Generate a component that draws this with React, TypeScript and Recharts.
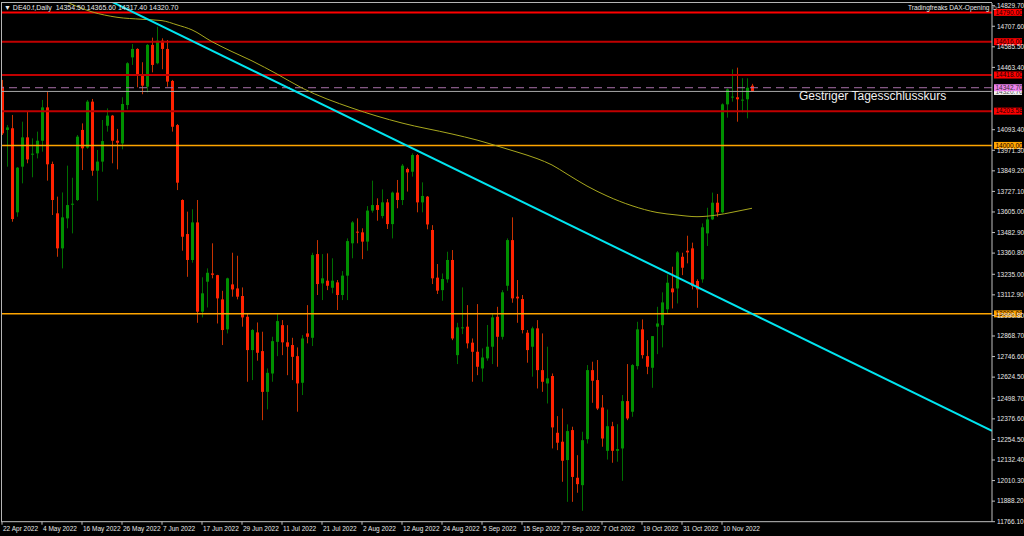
import { ComposedChart, Bar, Line, XAxis, YAxis, ReferenceLine } from "recharts";

// DE40 daily candles, bar 0 = 22 Apr 2022
const opens = [
  14349, 14092, 14102, 13603, 13874, 14048, 13947, 13953, 14028, 14226,
  13890, 13597, 13389, 13567, 13648, 13676, 14092, 13987, 14260, 13850,
  13904, 14117, 14177, 14028, 14012, 14240, 14523, 14573, 14418, 14349,
  14597, 14488, 14622, 14573, 14383, 14121, 13676, 13474, 13320, 13543,
  13013, 13191, 13240, 13230, 13086, 12908, 13175, 13151, 13106, 12983,
  12785, 12890, 12779, 12537, 12646, 12834, 12933, 12831, 12815, 12749,
  12591, 12884, 12858, 13355, 13181, 13197, 13155, 13187, 13112, 13227,
  13419, 13488, 13484, 13429, 13613, 13646, 13581, 13662, 13533, 13720,
  13676, 13860, 13844, 13943, 13662, 13696, 13498, 13215, 13141, 13205,
  13320, 12755, 12914, 12924, 12829, 12775, 12676, 12736, 12805, 12983,
  12864, 13167, 13438, 13102, 13088, 12888, 12805, 12914, 12666, 12587,
  12631, 12294, 12241, 12132, 12310, 12027, 11983, 12256, 12666, 12607,
  12444, 12187, 12333, 12187, 12201, 12482, 12419, 12690, 12908, 12749,
  12680, 12924, 12933, 13027, 13151, 13151, 13339, 13375, 13389, 13195,
  13205, 13478, 13561, 13660, 13603, 14244, 14286, 14286, 14268, 14274,
  14354.5,
];
const highs = [
  14389, 14121, 14181, 13872, 14141, 14200, 14042, 14082, 14270, 14319,
  13904, 13696, 13721, 13880, 13808, 14062, 14131, 14270, 14276, 13973,
  14151, 14220, 14181, 14098, 14286, 14494, 14602, 14577, 14494, 14602,
  14640, 14705, 14636, 14626, 14389, 14127, 13680, 13607, 13621, 13676,
  13217, 13270, 13419, 13232, 13137, 13215, 13363, 13345, 13157, 12999,
  12910, 12949, 12894, 12676, 12864, 13003, 12963, 12933, 12858, 12801,
  12874, 13052, 13363, 13438, 13355, 13359, 13330, 13201, 13254, 13448,
  13551, 13567, 13508, 13640, 13791, 13686, 13739, 13682, 13726, 13795,
  13890, 13868, 13953, 13949, 13781, 13700, 13527, 13296, 13240, 13369,
  13379, 12947, 13157, 13052, 12854, 13058, 12795, 12934, 12999, 13042,
  13141, 13448, 13573, 13201, 13112, 12904, 12924, 12963, 12884, 12805,
  12646, 12393, 12438, 12344, 12330, 12161, 12300, 12696, 12716, 12726,
  12518, 12432, 12359, 12345, 12518, 12702, 12702, 12953, 12967, 12844,
  12868, 13042, 13128, 13234, 13280, 13373, 13363, 13464, 13423, 13205,
  13537, 13630, 13720, 13712, 14250, 14339, 14452, 14462, 14399, 14399,
  14365.6,
];
const lows = [
  14062, 13874, 13547, 13577, 13775, 13894, 13811, 13923, 13963, 13791,
  13587, 13339, 13270, 13508, 13478, 13670, 13854, 13980, 13820, 13672,
  13844, 14082, 13894, 13858, 13977, 14214, 14478, 14345, 14304, 14315,
  14434, 14482, 14452, 14349, 14082, 13735, 13375, 13220, 13304, 12947,
  12979, 13038, 13211, 12943, 12815, 12884, 13102, 13086, 12924, 12597,
  12607, 12722, 12369, 12433, 12597, 12749, 12755, 12636, 12607, 12419,
  12518, 12825, 12809, 13112, 13082, 13141, 13122, 13023, 13082, 13082,
  13330, 13419, 13325, 13375, 13601, 13553, 13567, 13504, 13448, 13627,
  13646, 13726, 13815, 13603, 13603, 13502, 13177, 13118, 13078, 13185,
  12844, 12702, 12880, 12795, 12597, 12636, 12597, 12722, 12702, 12686,
  12848, 13137, 13066, 12947, 12884, 12710, 12627, 12557, 12537, 12468,
  12201, 12191, 12003, 11884, 11884, 11938, 11831, 12230, 12472, 12429,
  12211, 12135, 12116, 12122, 12009, 12369, 12389, 12670, 12735, 12642,
  12561, 12761, 12801, 13003, 13032, 13062, 13230, 13300, 13145, 13036,
  13185, 13403, 13557, 13577, 13597, 14165, 14260, 14141, 14197, 14161,
  14317.4,
];
const closes = [
  14072, 14107, 13563, 13868, 14048, 13917, 13951, 14028, 14226, 13888,
  13676, 13389, 13573, 13646, 13654, 14052, 13983, 14260, 13850, 13904,
  14026, 14177, 14028, 14016, 14246, 14488, 14573, 14414, 14355, 14597,
  14478, 14622, 14573, 14379, 14111, 13779, 13458, 13320, 13543, 13013,
  13122, 13244, 13232, 13092, 12904, 13211, 13145, 13102, 12979, 12785,
  12904, 12769, 12537, 12650, 12838, 12957, 12831, 12805, 12745, 12587,
  12854, 12864, 13349, 13177, 13211, 13167, 13197, 13112, 13227, 13432,
  13543, 13482, 13429, 13613, 13646, 13617, 13662, 13533, 13720, 13676,
  13880, 13840, 13943, 13662, 13700, 13531, 13211, 13138, 13207, 13320,
  12854, 12920, 12920, 12825, 12775, 12686, 12741, 12805, 12979, 12864,
  13128, 13438, 13092, 13092, 12904, 12785, 12914, 12666, 12597, 12617,
  12326, 12235, 12128, 12304, 12032, 11989, 12250, 12666, 12603, 12438,
  12260, 12333, 12187, 12197, 12482, 12379, 12696, 12908, 12755, 12686,
  12868, 12943, 13068, 13185, 13128, 13365, 13274, 13365, 13165, 13145,
  13514, 13561, 13660, 13603, 14244, 14333, 14290, 14274, 14272, 14342.7,
  14320.7,
];

const tickBars = [0, 8, 16, 24, 32, 40, 48, 56, 64, 72, 80, 88, 96, 104, 112, 120, 128, 136, 144];
const tickDates = [
  "22 Apr 2022", "4 May 2022", "16 May 2022", "26 May 2022", "7 Jun 2022",
  "17 Jun 2022", "29 Jun 2022", "11 Jul 2022", "21 Jul 2022", "2 Aug 2022",
  "12 Aug 2022", "24 Aug 2022", "5 Sep 2022", "15 Sep 2022", "27 Sep 2022",
  "7 Oct 2022", "19 Oct 2022", "31 Oct 2022", "10 Nov 2022",
];

const priceTicks = [
  14829.7, 14707.6, 14585.5, 14463.4, 14093.4, 13971.3, 13849.2, 13727.1,
  13605.0, 13482.9, 13360.8, 13235.0, 13112.9, 12990.8, 12868.7, 12746.6,
  12624.5, 12498.7, 12376.6, 12254.5, 12132.4, 12010.3, 11888.2, 11766.1,
];

// moving average, read at a few bars
const maBars = [12, 18, 23, 28, 32, 35, 38, 42, 46, 50, 55, 60, 70, 80, 90, 95, 99, 103, 107, 110, 113, 117, 121, 126, 131, 135, 139, 143, 146, 150];
const maValues = [
  14864, 14793, 14761, 14749, 14741, 14716, 14686, 14616, 14557, 14502,
  14424, 14341, 14222, 14133, 14068, 14032, 13997, 13961, 13922, 13884,
  13830, 13759, 13700, 13642, 13602, 13587, 13577, 13587, 13603, 13627,
];

const trendBars = [21, 198];
const trendValues = [14867, 12306];

const redLevels = [14790, 14616, 14418, 14203.58];
const orangeLevels = [14000, 13000];
const prevClose = 14342.7;
const lastPrice = 14320.7;

const FONT = "'Liberation Sans', Arial, sans-serif";

const candles = opens.map((o, i) => ({
  i,
  o,
  h: highs[i],
  l: lows[i],
  c: closes[i],
  range: [lows[i], highs[i]],
}));
const maRows = maBars.map((b, k) => ({ i: b, ma: maValues[k] }));
const trendRows = trendBars.map((b, k) => ({ i: b, trend: trendValues[k] }));

function Candle(props: any) {
  const { x, y, width, height, payload } = props;
  if (!payload || height == null || isNaN(y)) return null;
  const { o, h, l, c } = payload;
  const top = Math.min(y, y + height);
  const span = Math.abs(height);
  const k = h > l ? span / (h - l) : 0;
  const cx = Math.round(x + width / 2 - 0.5);
  const bodyTop = top + (h - Math.max(o, c)) * k;
  const bodyH = Math.max(1, Math.abs(o - c) * k);
  const up = c >= o;
  return (
    <g>
      <line
        x1={cx + 0.5}
        x2={cx + 0.5}
        y1={top}
        y2={top + span}
        stroke={up ? "#006e00" : "#c83200"}
        strokeWidth={1}
      />
      <rect x={cx - 1} y={bodyTop} width={3} height={bodyH} fill={up ? "#009000" : "#ff2200"} />
    </g>
  );
}

function PriceTick(props: any) {
  const { x, y, payload } = props;
  return (
    <g>
      <line x1={x} x2={x + 3} y1={y} y2={y} stroke="#c0c0c0" />
      <text x={x + 5} y={y + 2.3} fontSize={6.5} fill="#e8e8e8" fontFamily={FONT}>
        {Number(payload.value).toFixed(2)}
      </text>
    </g>
  );
}

function DateTick(props: any) {
  const { x, y, payload } = props;
  const idx = tickBars.indexOf(payload.value);
  return (
    <g>
      <line x1={x} x2={x} y1={y} y2={y + 3} stroke="#c0c0c0" />
      <text x={x + 1} y={y + 9} fontSize={6.5} fill="#e8e8e8" fontFamily={FONT}>
        {idx >= 0 ? tickDates[idx] : ""}
      </text>
    </g>
  );
}

const boxLabel = (bg: string, fg: string, value: number) => (props: any) => {
  const vb = props.viewBox;
  if (!vb) return null;
  const x = vb.x + vb.width + 2;
  const y = vb.y;
  return (
    <g>
      <rect x={x} y={y - 3.5} width={28} height={7} fill={bg} />
      <text x={x + 1.5} y={y + 2.3} fontSize={6.5} fill={fg} fontFamily={FONT}>
        {value.toFixed(2)}
      </text>
    </g>
  );
};

export default function App() {
  return (
    <div
      style={{
        position: "fixed",
        left: 0,
        top: 0,
        width: 1024,
        height: 536,
        background: "#000",
        overflow: "hidden",
        fontFamily: FONT,
      }}
    >
      <ComposedChart
        width={1024}
        height={536}
        data={candles}
        margin={{ top: 3, right: 0, bottom: 0, left: 1 }}
      >
        <XAxis
          dataKey="i"
          type="number"
          domain={[-0.2, 198]}
          allowDataOverflow
          ticks={tickBars}
          interval={0}
          height={14.3}
          tickSize={0}
          tickMargin={0}
          tickLine={false}
          axisLine={{ stroke: "#c0c0c0" }}
          tick={<DateTick />}
        />
        <YAxis
          orientation="right"
          type="number"
          domain={[11766.1, 14845.7]}
          allowDataOverflow
          ticks={priceTicks}
          interval={0}
          width={32}
          tickSize={0}
          tickMargin={0}
          tickLine={false}
          axisLine={{ stroke: "#c0c0c0" }}
          tick={<PriceTick />}
        />
        {redLevels.map((v, k) => (
          <ReferenceLine
            key={"r" + v}
            y={v}
            stroke={k === 0 ? "#ff0000" : "#c00000"}
            strokeWidth={2}
            label={boxLabel("#ff0000", "#200000", v)}
          />
        ))}
        {orangeLevels.map((v) => (
          <ReferenceLine
            key={"o" + v}
            y={v}
            stroke="#ffa500"
            strokeWidth={1.5}
            label={boxLabel("#ffa500", "#200000", v)}
          />
        ))}
        <ReferenceLine
          y={lastPrice}
          stroke="#a8a8a8"
          strokeWidth={1}
          label={boxLabel("#f4f4f4", "#505050", lastPrice)}
        />
        <ReferenceLine
          y={prevClose}
          stroke="#a870a8"
          strokeWidth={1}
          strokeDasharray="8 5"
          label={boxLabel("#ee82ee", "#303030", prevClose)}
        />
        <Bar dataKey="range" barSize={3} shape={<Candle />} isAnimationActive={false} />
        <Line
          data={maRows}
          dataKey="ma"
          type="monotone"
          stroke="#a8a81e"
          strokeWidth={1}
          dot={false}
          connectNulls
          isAnimationActive={false}
        />
        <Line
          data={trendRows}
          dataKey="trend"
          type="linear"
          stroke="#00e5f0"
          strokeWidth={2}
          dot={false}
          isAnimationActive={false}
        />
      </ComposedChart>
      <div
        style={{
          position: "absolute",
          left: 1,
          top: 2,
          width: 991,
          height: 520,
          borderLeft: "1px solid #b4b4b4",
          borderTop: "1px solid #b4b4b4",
          pointerEvents: "none",
          boxSizing: "border-box",
        }}
      />
      <div style={{ position: "absolute", left: 4, top: 4, fontSize: 7, color: "#e8e8e8", whiteSpace: "nowrap", lineHeight: "8px" }}>
        ▼ DE40.f,Daily&nbsp;&nbsp;14354.50 14365.60 14317.40 14320.70
      </div>
      <div style={{ position: "absolute", left: 908, top: 4, fontSize: 6.5, color: "#e8e8e8", whiteSpace: "nowrap", lineHeight: "8px" }}>
        Tradingfreaks DAX-Opening ☺
      </div>
      <div style={{ position: "absolute", left: 799, top: 89, fontSize: 12, color: "#f0f0f0", whiteSpace: "nowrap", lineHeight: "14px" }}>
        Gestriger Tagesschlusskurs
      </div>
    </div>
  );
}
